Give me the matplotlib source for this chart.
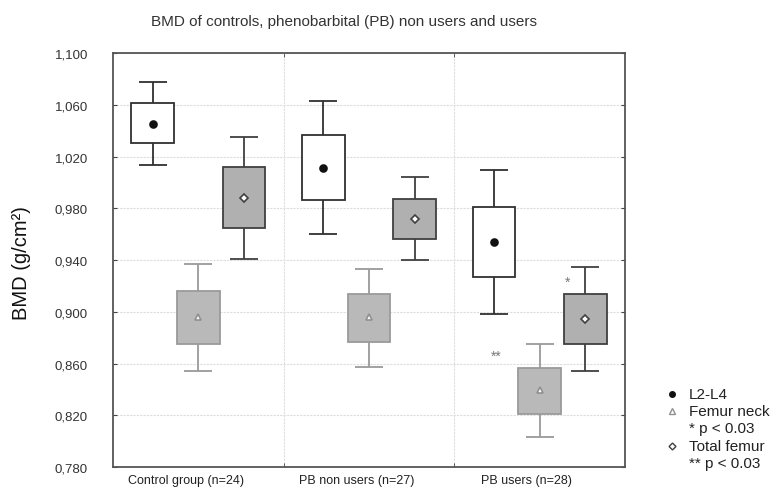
import matplotlib
matplotlib.use("Agg")
import matplotlib.pyplot as plt
from matplotlib.ticker import FuncFormatter, FixedLocator
import numpy as np

plt.rcParams['font.family'] = ['Liberation Sans', 'DejaVu Sans']

groups = ["Control group (n=24)", "PB non users (n=27)", "PB users (n=28)"]
series = ["L2-L4", "Femur neck", "Total femur"]

# per series: [group1, group2, group3]
l24_whi_lo = [1.0137, 0.9599, 0.8985]
l24_box_lo = [1.0302, 0.9864, 0.9271]
l24_mean = [1.0454, 1.0114, 0.9539]
l24_box_hi = [1.0614, 1.0364, 0.9807]
l24_whi_hi = [1.0774, 1.0627, 1.0096]

fn_whi_lo = [0.8540, 0.8576, 0.8030]
fn_box_lo = [0.8753, 0.8769, 0.8210]
fn_mean = [0.8957, 0.8957, 0.8395]
fn_box_hi = [0.9158, 0.9140, 0.8563]
fn_whi_hi = [0.9369, 0.9331, 0.8748]

tf_whi_lo = [0.9410, 0.9403, 0.8542]
tf_box_lo = [0.9647, 0.9562, 0.8751]
tf_mean = [0.9877, 0.9717, 0.8944]
tf_box_hi = [1.0121, 0.9874, 0.9140]
tf_whi_hi = [1.0353, 1.0039, 0.9344]

annot_text = ["*", "**"]
annot_x = [2.162, 1.747]
annot_y = [0.9248, 0.8671]

y_ticks = [0.78, 0.82, 0.86, 0.90, 0.94, 0.98, 1.02, 1.06, 1.10]

fig = plt.figure(figsize=(7.77, 4.89), dpi=100)
ax = fig.add_axes([113/777, 1-468/489, 512/777, 414/489])

offsets = [-0.268, 0.0, 0.268]
box_w = 0.25
cap_w = 0.165
styles = [
    dict(fc="white", ec="#303030", wc="#303030", marker="o", mfc="#111111", mec="#111111", ms=5),
    dict(fc="#b9b9b9", ec="#9a9a9a", wc="#9a9a9a", marker="^", mfc="white", mec="#909090", ms=5),
    dict(fc="#b0b0b0", ec="#404040", wc="#404040", marker="D", mfc="white", mec="#404040", ms=4.5),
]
data = [
    (l24_whi_lo, l24_box_lo, l24_mean, l24_box_hi, l24_whi_hi),
    (fn_whi_lo, fn_box_lo, fn_mean, fn_box_hi, fn_whi_hi),
    (tf_whi_lo, tf_box_lo, tf_mean, tf_box_hi, tf_whi_hi),
]

xc = np.arange(len(groups))
for s, (wl, bl, mn, bh, wh) in enumerate(data):
    st = styles[s]
    xs = xc + offsets[s]
    ax.vlines(xs, wl, wh, colors=st["wc"], lw=1.3, zorder=2)
    ax.hlines(wl, xs - cap_w/2, xs + cap_w/2, colors=st["wc"], lw=1.3, zorder=2)
    ax.hlines(wh, xs - cap_w/2, xs + cap_w/2, colors=st["wc"], lw=1.3, zorder=2)
    ax.bar(xs, np.array(bh) - np.array(bl), bottom=bl, width=box_w,
           color=st["fc"], edgecolor=st["ec"], linewidth=1.3, zorder=3)
    ax.plot(xs, mn, ls="none", marker=st["marker"], ms=st["ms"],
            mfc=st["mfc"], mec=st["mec"], mew=1.2, zorder=4)

for t, x, y in zip(annot_text, annot_x, annot_y):
    ax.text(x, y - 0.0045, t, ha="center", va="baseline", fontsize=10, color="#777777")

ax.set_xlim(-0.5, 2.5)
ax.set_ylim(y_ticks[0], y_ticks[-1])
ax.yaxis.set_major_locator(FixedLocator(y_ticks))
ax.yaxis.set_major_formatter(FuncFormatter(lambda v, p: f"{v:.3f}".replace(".", ",")))
ax.set_xticks(xc - 0.075)
ax.set_xticklabels(groups, fontsize=9, color="#222222")
ax.set_xticks([0.5, 1.5], minor=True)
ax.tick_params(axis="x", which="major", length=0, pad=5)
ax.tick_params(axis="x", which="minor", direction="in", length=3, top=True, bottom=True, color="#444444")
ax.tick_params(axis="y", direction="in", length=3, left=True, right=True,
               labelsize=9.5, labelcolor="#333333", color="#444444", pad=18)

ax.grid(axis="y", which="major", color="#dddddd", lw=0.8, ls=(0, (2, 1)), zorder=0)
ax.grid(axis="x", which="minor", color="#dddddd", lw=0.8, ls=(0, (2, 1)), zorder=0)
ax.set_axisbelow(True)
for sp in ax.spines.values():
    sp.set_color("#555555")
    sp.set_linewidth(1.3)

fig.text(22/777, 1-263/489, "BMD (g/cm²)", rotation=90, ha="center", va="center",
         fontsize=14.5, color="#111111")
fig.text(344/777, 1-22/489, "BMD of controls, phenobarbital (PB) non users and users",
         ha="center", va="center", fontsize=11, color="#333333")

# legend (manual)
leg_items = [
    (395, styles[0], "L2-L4", None),
    (412, styles[1], "Femur neck", "* p < 0.03"),
    (447, styles[2], "Total femur", "** p < 0.03"),
]
for ypix, st, lab, sub in leg_items:
    fy = 1 - ypix/489
    fig.add_artist(plt.Line2D([672/777], [fy], transform=fig.transFigure, ls="none",
                              marker=st["marker"], ms=st["ms"] - 1, mfc=st["mfc"],
                              mec=st["mec"], mew=1.0))
    fig.text(689/777, fy, lab, ha="left", va="center", fontsize=11, color="#222222")
    if sub:
        fig.text(689/777, fy - 17/489, sub, ha="left", va="center", fontsize=11, color="#222222")

fig.savefig("out.png", dpi=100, facecolor="white")
